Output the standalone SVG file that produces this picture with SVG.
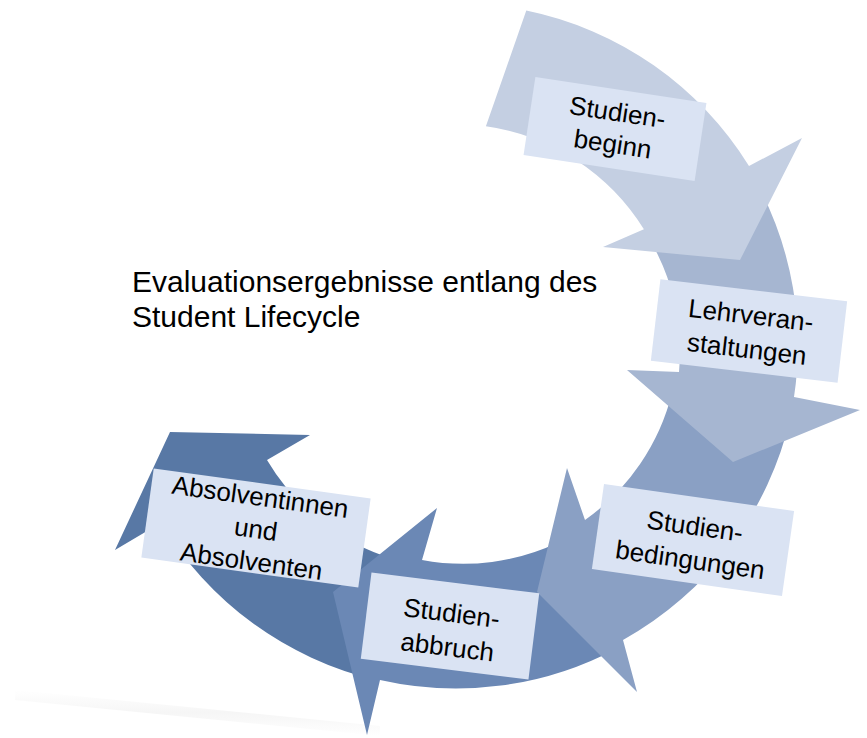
<svg xmlns="http://www.w3.org/2000/svg" width="867" height="738" viewBox="0 0 867 738">
<defs>
<style>
.box{fill:#dae3f3;}
.lbl{font-family:"Liberation Sans",Arial,sans-serif;font-size:26px;fill:#000;text-anchor:middle;}
.title{font-family:"Liberation Sans",Arial,sans-serif;font-size:30px;fill:#000;}
</style>
<linearGradient id="refl" x1="0" y1="0" x2="0" y2="1">
<stop offset="0" stop-color="#ffffff"/>
<stop offset="0.5" stop-color="#eeeeee"/>
<stop offset="1" stop-color="#ffffff"/>
</linearGradient>
</defs>
<rect width="867" height="738" fill="#ffffff"/>
<polygon points="15,690 380,726 380,736 15,700" fill="url(#refl)" opacity="0.55"/>
<g id="connectors">
<path id="arrow5" fill="#5878a5" d="M 376,680 A 343 343 0 0 1 161,522.7 L 115,550 L 170,432 L 310,435 L 267,460 A 222 222 0 0 0 405.1,562.3 Z"/>
<path id="arrow4" fill="#6b88b5" d="M 616,648.9 A 343 343 0 0 1 380,680 L 367,735 L 333,592 L 437,508 L 422,560 A 222 222 0 0 0 559.2,542 Z"/>
<path id="arrow3" fill="#8aa0c4" d="M 790.5,417.3 A 343 343 0 0 1 623,640 L 637,692 L 537,592 L 567,468 L 585,520 A 222 222 0 0 0 672.2,392.2 Z"/>
<path id="arrow2" fill="#a6b6d1" d="M 757.9,185 A 343 343 0 0 1 794,397 L 860,410 L 733,462 L 627,370 L 679,372 A 224 224 0 0 0 651,241.8 Z"/>
<path id="arrow1" fill="#c4cfe2" d="M 526.3,10.5 A 343 343 0 0 1 749,166 L 802,138 L 740,260 L 603,247 L 643.9,229.3 A 222 222 0 0 0 485.9,126.2 Z"/>
</g>
<g id="title">
<text class="title" x="132" y="292">Evaluationsergebnisse entlang des</text>
<text class="title" x="132" y="327">Student Lifecycle</text>
</g>
<g id="studienbeginn" transform="translate(615,129) rotate(8.6)">
<rect class="box" x="-86.5" y="-39.5" width="173" height="79"/>
<text class="lbl" x="0" y="-8">Studien-</text>
<text class="lbl" x="0" y="24">beginn</text>
</g>
<g id="lehrveranstaltungen" transform="translate(749,331) rotate(6.7)">
<rect class="box" x="-94" y="-41" width="188" height="82"/>
<text class="lbl" x="0" y="-7">Lehrveran-</text>
<text class="lbl" x="0" y="27">staltungen</text>
</g>
<g id="studienbedingungen" transform="translate(693,540) rotate(8.1)">
<rect class="box" x="-96" y="-43" width="192" height="86"/>
<text class="lbl" x="0" y="-5">Studien-</text>
<text class="lbl" x="0" y="29">bedingungen</text>
</g>
<g id="studienabbruch" transform="translate(450,626) rotate(7.1)">
<rect class="box" x="-84.5" y="-43.5" width="169" height="87"/>
<text class="lbl" x="0" y="-4">Studien-</text>
<text class="lbl" x="0" y="30">abbruch</text>
</g>
<g id="absolventen" transform="translate(256,528) rotate(7.9)">
<rect class="box" x="-109.5" y="-45" width="219" height="90"/>
<text class="lbl" x="0" y="-22.5">Absolventinnen</text>
<text class="lbl" x="0" y="10">und</text>
<text class="lbl" x="0" y="42.5">Absolventen</text>
</g>
</svg>
